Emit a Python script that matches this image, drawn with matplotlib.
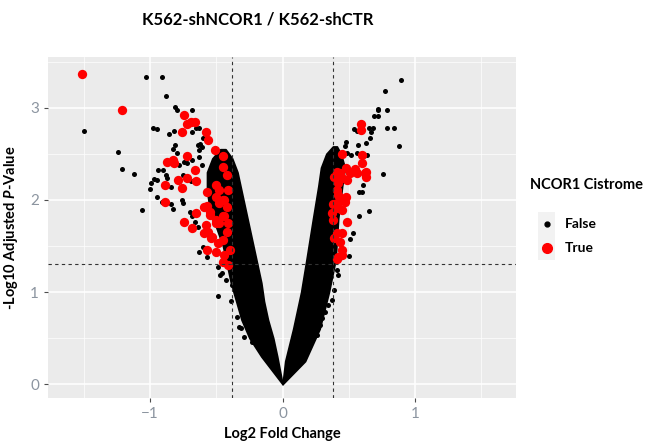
import matplotlib
matplotlib.use("Agg")
import matplotlib.pyplot as plt
from matplotlib.patches import Rectangle
from matplotlib.lines import Line2D

plt.rcParams['font.family'] = ['Lato', 'DejaVu Sans']
plt.rcParams['mathtext.fontset'] = 'custom'
plt.rcParams['mathtext.it'] = 'Lato:italic:bold'

# dense core of each arm of the V (outer and inner edge per -log10 p level)
left_y = [0.0, 0.15, 0.3, 0.5, 0.7, 0.9, 1.1, 1.3, 1.5, 1.7, 1.9, 2.1, 2.3, 2.45, 2.55]
left_outer = [0.0, -0.08, -0.16, -0.25, -0.31, -0.35, -0.39, -0.42, -0.45, -0.50, -0.55, -0.57, -0.57, -0.53, -0.47]
left_inner = [0.0, -0.02, -0.04, -0.07, -0.11, -0.14, -0.16, -0.19, -0.22, -0.25, -0.28, -0.31, -0.34, -0.38, -0.43]

right_y = [0.0, 0.25, 0.6, 1.0, 1.35, 1.8, 2.15, 2.35, 2.5, 2.58]
right_inner = [0.0, 0.02, 0.08, 0.14, 0.18, 0.23, 0.27, 0.29, 0.33, 0.38]
right_outer = [0.0, 0.17, 0.28, 0.35, 0.40, 0.42, 0.45, 0.47, 0.44, 0.41]

# scattered genes outside the core (not in cistrome)
false_lfc = [-1.03, -0.91, -0.88, -1.20, -1.50, -0.81, -0.80, -0.68, -0.98, -0.95,
             -0.86, -0.82, -0.68, -0.65, -0.63, -1.245, -1.21, -1.12, -1.06, -0.815,
             -0.83, -0.80, -0.94, -0.95, -0.99, -1.00, -0.88, -0.87, -0.95, -0.91,
             -0.84, -0.83, -0.78, -0.74, -0.63, -0.64, -0.60, -0.62, -0.61, -0.90,
             -0.97, -0.84, -0.72, -0.68, -0.63, -0.61, -0.75, -0.72, -0.69, -0.76,
             -0.75, -0.70, -0.68, -0.66, -0.64, -0.61, -0.63, -0.60, -0.57, -0.49,
             -0.46, -0.49, -0.47, -0.43, -0.39, -0.38, -0.35, -0.33, -0.31, -0.29,
             -0.23, -0.17, -0.34, -0.31,
             0.89, 0.77, 0.72, 0.72, 0.79, 0.69, 0.72, 0.79, 0.84, 0.875,
             0.54, 0.56, 0.65, 0.67, 0.68, 0.66, 0.63, 0.57, 0.48, 0.47,
             0.76, 0.49, 0.52, 0.56, 0.60, 0.64, 0.58, 0.60, 0.65, 0.58,
             0.53, 0.51, 0.50, 0.61, 0.41, 0.42, 0.39, 0.37, 0.34, 0.26,
             0.32, 0.30, 0.28, 0.23, 0.20]
false_p = [3.33, 3.33, 3.13, 2.98, 2.75, 3.01, 2.98, 2.98, 2.78, 2.77,
           2.71, 2.75, 2.74, 2.78, 2.78, 2.52, 2.34, 2.28, 1.89, 2.60,
           2.55, 2.51, 2.32, 2.22, 2.18, 2.12, 2.27, 2.24, 2.03, 1.98,
           1.96, 1.90, 2.38, 2.41, 2.54, 2.60, 2.67, 2.61, 2.57, 2.32,
           2.23, 2.14, 2.40, 2.43, 2.47, 2.38, 2.27, 2.25, 2.21, 2.00,
           1.97, 1.87, 1.82, 1.76, 1.71, 1.64, 1.43, 1.49, 1.38, 1.27,
           1.21, 0.96, 1.18, 1.13, 0.90, 1.08, 1.02, 0.62, 0.61, 0.51,
           0.46, 0.40, 0.73, 0.80,
           3.30, 3.18, 2.99, 2.97, 2.98, 2.91, 2.91, 2.78, 2.78, 2.58,
           2.77, 2.75, 2.78, 2.74, 2.78, 2.67, 2.62, 2.60, 2.63, 2.58,
           2.28, 2.51, 2.49, 2.51, 2.49, 2.49, 2.08, 2.08, 1.88, 1.82,
           1.64, 1.58, 1.39, 2.16, 1.24, 1.18, 1.02, 0.91, 0.86, 0.53,
           0.78, 0.72, 0.64, 0.57, 0.48]

# genes bound by NCOR1 (cistrome)
true_lfc = [-1.51, -1.21, -0.74, -0.72, -0.69, -0.66, -0.755, -0.58, -0.565, -0.51,
            -0.45, -0.87, -0.83, -0.82, -0.72, -0.79, -0.72, -0.66, -0.65, -0.89,
            -0.76, -0.89, -0.74, -0.68, -0.57, -0.55, -0.45, -0.42, -0.50, -0.48,
            -0.58, -0.565, -0.53, -0.415, -0.45, -0.42, -0.44, -0.50, -0.65, -0.59,
            -0.55, -0.50, -0.45, -0.59, -0.54, -0.49, -0.45, -0.42, -0.57, -0.50,
            -0.44, -0.40, -0.45, -0.415, -0.57, -0.50, -0.48, -0.44, -0.48, -0.415,
            0.59, 0.59, 0.445, 0.60, 0.60, 0.55, 0.63, 0.48, 0.51, 0.43,
            0.45, 0.41, 0.39, 0.62, 0.63, 0.56, 0.49, 0.415, 0.41, 0.42,
            0.445, 0.41, 0.38, 0.415, 0.45, 0.49, 0.41, 0.445, 0.39, 0.43,
            0.445, 0.45, 0.415, 0.37, 0.38, 0.47, 0.48, 0.41]
true_p = [3.37, 2.98, 2.92, 2.82, 2.84, 2.85, 2.74, 2.74, 2.65, 2.54,
          2.48, 2.41, 2.43, 2.40, 2.48, 2.22, 2.24, 2.32, 2.21, 2.16,
          2.13, 1.98, 1.76, 1.70, 1.93, 1.87, 2.36, 2.27, 2.16, 2.11,
          1.73, 1.65, 1.60, 2.11, 2.00, 1.92, 1.82, 1.75, 1.86, 1.92,
          1.84, 1.78, 1.82, 1.64, 1.59, 1.53, 1.57, 1.65, 1.46, 1.43,
          1.40, 1.46, 1.33, 1.29, 2.08, 2.03, 1.97, 2.00, 1.75, 1.75,
          2.82, 2.76, 2.50, 2.49, 2.40, 2.33, 2.30, 2.35, 2.29, 2.29,
          2.24, 2.30, 2.25, 2.29, 2.25, 2.29, 2.22, 2.18, 2.11, 2.05,
          2.00, 1.97, 1.95, 1.91, 1.89, 1.76, 1.64, 1.64, 1.59, 1.54,
          1.46, 1.40, 1.38, 1.86, 1.78, 1.98, 2.03, 1.36]

lfc_cut = 0.38
p_cut = 1.301

fig = plt.figure(figsize=(6.48, 4.42), dpi=100)
ax = fig.add_axes([0.074, 0.0995, 0.722, 0.7715])
ax.set_facecolor('#EBEBEB')

ax.fill_betweenx(left_y, left_outer, left_inner, color='black', lw=1.2, zorder=2)
ax.fill_betweenx(right_y, right_inner, right_outer, color='black', lw=1.2, zorder=2)
ax.scatter(false_lfc, false_p, s=13, color='black', lw=0, zorder=3)
ax.scatter(true_lfc, true_p, s=45, color='#FF0000', lw=0, zorder=4)

ax.axvline(-lfc_cut, color='#333333', ls=(0, (3, 3)), lw=0.8, zorder=5)
ax.axvline(lfc_cut, color='#333333', ls=(0, (3, 3)), lw=0.8, zorder=5)
ax.axhline(p_cut, color='#333333', ls=(0, (3, 3)), lw=0.8, zorder=5)

ax.set_xlim(-1.77, 1.76)
ax.set_ylim(-0.15, 3.55)
ax.set_xticks([-1, 0, 1])
ax.set_yticks([0, 1, 2, 3])
ax.set_xticks([-1.5, -0.5, 0.5, 1.5], minor=True)
ax.set_yticks([0.5, 1.5, 2.5, 3.5], minor=True)
ax.grid(which='major', color='white', lw=1.1, zorder=0)
ax.grid(which='minor', color='white', lw=0.5, zorder=0)
ax.set_axisbelow(True)
for s in ax.spines.values():
    s.set_visible(False)
ax.tick_params(which='major', length=3, color='#4D4D4D', labelcolor='#8C95A0', labelsize=11)
ax.tick_params(which='minor', length=0)

ax.set_xlabel('Log2 Fold Change', fontsize=10.5, fontweight='bold', labelpad=4)
ax.set_ylabel(r'-Log10 Adjusted $\mathit{P}$-Value', fontsize=10.5, fontweight='bold', labelpad=7)
fig.text(0.398, 0.955, 'K562-shNCOR1 / K562-shCTR', ha='center', va='center',
         fontsize=12, fontweight='bold')

# legend
fig.text(0.818, 0.582, 'NCOR1 Cistrome', ha='left', va='center', fontsize=10.5, fontweight='bold')
for yk, lab, col, ms in [(0.493, 'False', 'black', 3.5), (0.438, 'True', '#FF0000', 7)]:
    fig.patches.append(Rectangle((0.831, yk - 0.027), 0.026, 0.054, transform=fig.transFigure,
                                 facecolor='#F2F2F2', edgecolor='none'))
    fig.lines.append(Line2D([0.844], [yk], transform=fig.transFigure, marker='o',
                            markersize=ms, color=col, ls='none'))
    fig.text(0.872, yk, lab, ha='left', va='center', fontsize=10, fontweight='bold')

fig.savefig('out.png', dpi=100)
